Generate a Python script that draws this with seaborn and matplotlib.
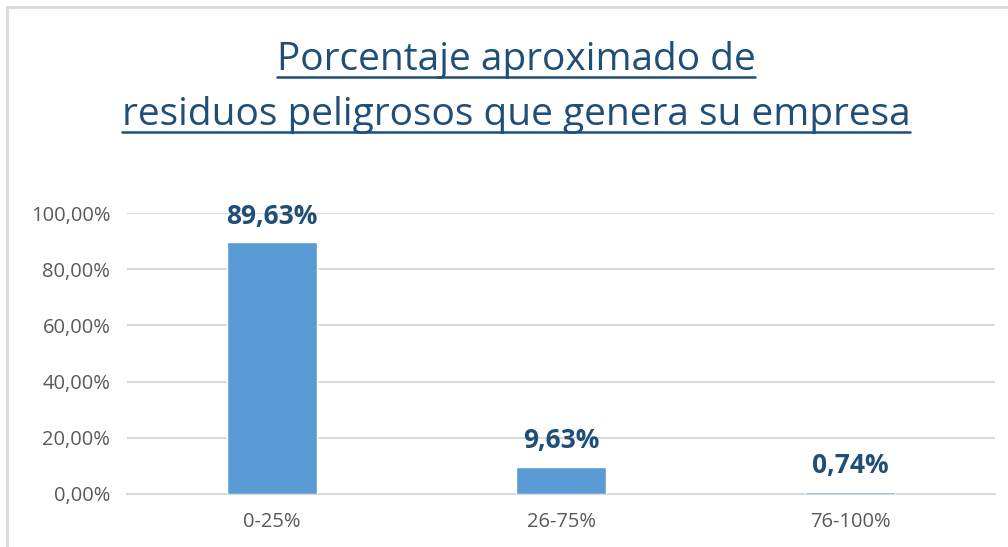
import matplotlib
matplotlib.use("Agg")
import matplotlib.pyplot as plt
from matplotlib.patches import Rectangle
import seaborn as sns
import pandas as pd

# Data
categories = ["0-25%", "26-75%", "76-100%"]
values = [0.8963, 0.0963, 0.0074]
value_labels = ["89,63%", "9,63%", "0,74%"]
yticks = [0, 0.2, 0.4, 0.6, 0.8, 1.0]
ytick_labels = ["0,00%", "20,00%", "40,00%", "60,00%", "80,00%", "100,00%"]
title_lines = ["Porcentaje aproximado de", "residuos peligrosos que genera su empresa"]

bar_color = "#5B9BD5"
dark_blue = "#1F4E79"
grid_gray = "#D9D9D9"

sns.set_style("white")
plt.rcParams["font.family"] = ["Open Sans", "DejaVu Sans"]

W, H = 1008, 547
fig = plt.figure(figsize=(W / 100, H / 100), dpi=100)
fig.patch.set_facecolor("white")

# chart frame (only top and left edges fall inside the picture)
fig.patches.append(Rectangle((7 / W, -0.1), 1.2, 1 - 7 / H + 0.1, transform=fig.transFigure,
                             fill=False, edgecolor=grid_gray, linewidth=2))

ax = fig.add_axes([127 / W, 1 - 494 / H, (995 - 127) / W, (494 - 213) / H])
df = pd.DataFrame({"cat": categories, "val": values})
sns.barplot(data=df, x="cat", y="val", color=bar_color, saturation=1, width=0.31, ax=ax)
for p in ax.patches:
    p.set_zorder(3)  # keep the tiny bar visible over the axis line

ax.set_ylim(0, 1.0)
ax.set_yticks(yticks)
ax.set_yticklabels(ytick_labels)
ax.set_xlabel("")
ax.set_ylabel("")
ax.yaxis.grid(True, color=grid_gray, linewidth=1.5)
ax.set_axisbelow(True)
for s in ["top", "right", "left"]:
    ax.spines[s].set_visible(False)
ax.spines["bottom"].set_color(grid_gray)
ax.spines["bottom"].set_linewidth(1.5)
ax.tick_params(axis="both", length=0, labelsize=14.5, labelcolor="#595959", pad=12)
ax.tick_params(axis="x", pad=13)

for i, (v, lab) in enumerate(zip(values, value_labels)):
    ax.annotate(lab, (i, v), xytext=(0, 9), textcoords="offset points",
                ha="center", va="bottom", fontsize=19, fontweight="bold", color=dark_blue)

# title with underline
cx = 516 / W
baselines = [70, 125]
fig.canvas.draw()
renderer = fig.canvas.get_renderer()
for line, b in zip(title_lines, baselines):
    t = fig.text(cx, 1 - b / H, line, ha="center", va="baseline", fontsize=28, color=dark_blue)
    bb = t.get_window_extent(renderer=renderer)
    uy = 1 - (b + 7) / H
    fig.add_artist(plt.Line2D([bb.x0 / W, bb.x1 / W], [uy, uy], transform=fig.transFigure,
                              color=dark_blue, linewidth=1.8))

fig.savefig("out.png", dpi=100)
